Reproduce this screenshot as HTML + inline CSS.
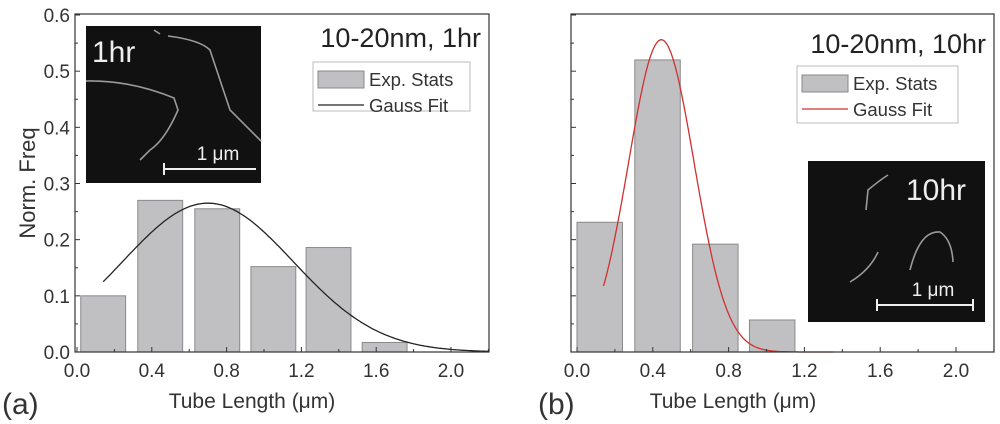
<!DOCTYPE html>
<html><head><meta charset="utf-8"><style>
body{margin:0;background:#fff;}
svg{display:block;font-family:"Liberation Sans",sans-serif;}
</style></head><body>
<svg id="c" width="1000" height="424"></svg>
<script>
const NS="http://www.w3.org/2000/svg";
const xTicks=[0.0,0.4,0.8,1.2,1.6,2.0];
const xTickLabels=["0.0","0.4","0.8","1.2","1.6","2.0"];
const yTicks=[0,0.1,0.2,0.3,0.4,0.5,0.6];
const yTickLabels=["0.0","0.1","0.2","0.3","0.4","0.5","0.6"];
const barCentersA=[0.14,0.445,0.75,1.05,1.345,1.645];
const barValuesA=[0.10,0.27,0.255,0.152,0.186,0.017];
const fitA=[0.265,0.70,0.457,0.14,2.2]; // amplitude, mean, sigma, xStart, xEnd
const barCentersB=[0.12,0.425,0.73,1.03];
const barValuesB=[0.231,0.52,0.192,0.057];
const fitB=[0.556,0.445,0.173,0.14,1.35];
const barWidth=0.24;
const svg=document.getElementById('c');
function el(t,a,p){const e=document.createElementNS(NS,t);for(const k in a)e.setAttribute(k,a[k]);(p||svg).appendChild(e);return e;}
function panel(o){
  const g=el('g',{});
  
  
  const X=v=>o.x0+(v-0)*(o.x2-o.x0)/2.0;
  const Y=v=>352-v*(352-15)/0.6;
  o.centers.forEach((c,i)=>{
    const r=el('rect',{x:X(c-barWidth/2),y:Y(o.values[i]),width:X(c+barWidth/2)-X(c-barWidth/2),height:Y(0)-Y(o.values[i]),fill:'#c0c0c2',stroke:'#8a8a8a','stroke-width':1},g);
    
    
  });
  const [A,m,s,xs,xe]=o.fit;let d='';
  for(let k=0;k<=200;k++){const v=xs+(xe-xs)*k/200;const yv=A*Math.exp(-(v-m)*(v-m)/(2*s*s));d+=(k?'L':'M')+X(v).toFixed(1)+','+Y(yv).toFixed(1);}
  const p=el('path',{d:d,fill:'none',stroke:o.fitColor,'stroke-width':1.3},g);
  
  
  const f=el('rect',{x:o.left,y:14,width:o.right-o.left,height:338,fill:'none',stroke:'#333','stroke-width':1.2},g);
  
  
  for(let k=0;k<=12;k++){const v=k*0.05;const len=k%2?3:5;el('line',{x1:o.left,x2:o.left+len,y1:Y(v),y2:Y(v),stroke:'#333'},g);}
  if(o.yLabels){yTicks.forEach((v,i)=>{const t=el('text',{x:o.left-5,y:Y(v)+7,'text-anchor':'end','font-size':19,fill:'#333'},g);t.textContent=yTickLabels[i];});}
  for(let k=0;k<=11;k++){const v=k*0.2;const len=k%2?3:5;el('line',{x1:X(v),x2:X(v),y1:352,y2:352-len,stroke:'#333'},g);}
  xTicks.forEach((v,i)=>{const t=el('text',{x:X(v),y:377,'text-anchor':'middle','font-size':19,fill:'#333'},g);t.textContent=xTickLabels[i];});
  const xt=el('text',{x:o.xTitleX,y:408,'text-anchor':'middle','font-size':21,fill:'#333'},g);xt.textContent='Tube Length (\u03bcm)';
  
  const pl=el('text',{x:o.plX,y:414,'font-size':30,fill:'#333'},g);pl.textContent=o.panelLabel;
  
  const ti=el('text',{x:o.right-8,y:o.titleY,'text-anchor':'end','font-size':27,fill:'#222'},g);ti.textContent=o.title;
  
  const L=o.leg;const lg=el('g',{},g);
  el('rect',{x:L[0],y:L[1],width:L[2],height:L[3],fill:'#fff',stroke:'#bbb'},lg);
  el('rect',{x:L[0]+5,y:L[1]+9,width:46,height:17,fill:'#c0c0c2',stroke:'#888'},lg);
  el('line',{x1:L[0]+5,x2:L[0]+51,y1:L[1]+43,y2:L[1]+43,stroke:o.fitColor,'stroke-width':1.3},lg);
  let t1=el('text',{x:L[0]+56,y:L[1]+24,'font-size':18.5,fill:'#333'},lg);t1.textContent='Exp. Stats';
  
  let t2=el('text',{x:L[0]+56,y:L[1]+50,'font-size':18.5,fill:'#333'},lg);t2.textContent='Gauss Fit';
  
  const I=o.inset;const ig=el('g',{},g);
  el('rect',{x:I[0],y:I[1],width:I[2],height:I[3],fill:'#111'},ig);
  I[4].forEach(pd=>el('path',{d:pd,fill:'none',stroke:'#9a9a9a','stroke-width':1.6},ig));
  const il=el('text',{x:I[5],y:I[6],'font-size':30,fill:'#eee'},ig);il.textContent=o.insetLabel;
  const sb=I[7];el('line',{x1:sb[0],x2:sb[1],y1:sb[2],y2:sb[2],stroke:'#eee','stroke-width':2},ig);
  el('line',{x1:sb[0],x2:sb[0],y1:sb[2]-6,y2:sb[2]+6,stroke:'#eee','stroke-width':2},ig);
  if(sb[3])el('line',{x1:sb[1],x2:sb[1],y1:sb[2]-6,y2:sb[2]+6,stroke:'#eee','stroke-width':2},ig);
  const st=el('text',{x:(sb[0]+sb[1])/2+8,y:sb[2]-9,'text-anchor':'middle','font-size':19,fill:'#eee'},ig);st.textContent='1 \u03bcm';
}
panel({name:'panel-a',left:75,right:489,x0:77,x2:451,centers:barCentersA,values:barValuesA,fit:fitA,fitColor:'#222',
 yLabels:true,xTitleX:252,plX:2,panelLabel:'(a)',title:'10-20nm, 1hr',titleY:47,leg:[313,62,157,49],
 inset:[86,26,175,157,["M86,81 Q130,80 174,98 L178,110 Q165,140 150,150 L140,160","M168,36 Q200,40 210,50 L230,110 L261,141","M154,30 L160,34"],92,62,[164,256,169,false]],insetLabel:'1hr'});
panel({name:'panel-b',left:571,right:994,x0:577,x2:956,centers:barCentersB,values:barValuesB,fit:fitB,fitColor:'#d03030',
 yLabels:false,xTitleX:733,plX:538,panelLabel:'(b)',title:'10-20nm, 10hr',titleY:53,leg:[797,66,161,57],
 inset:[808,161,177,161,["M888,175 Q880,180 868,190 L866,210","M878,252 Q870,270 850,282","M910,270 Q920,230 940,232 Q952,240 953,262"],906,200,[877,973,305,true]],insetLabel:'10hr'});
const yt=el('text',{x:0,y:0,'text-anchor':'middle','font-size':22,fill:'#333',transform:'translate(35,183) rotate(-90)'});
yt.textContent='Norm. Freq';


</script>
</body></html>
